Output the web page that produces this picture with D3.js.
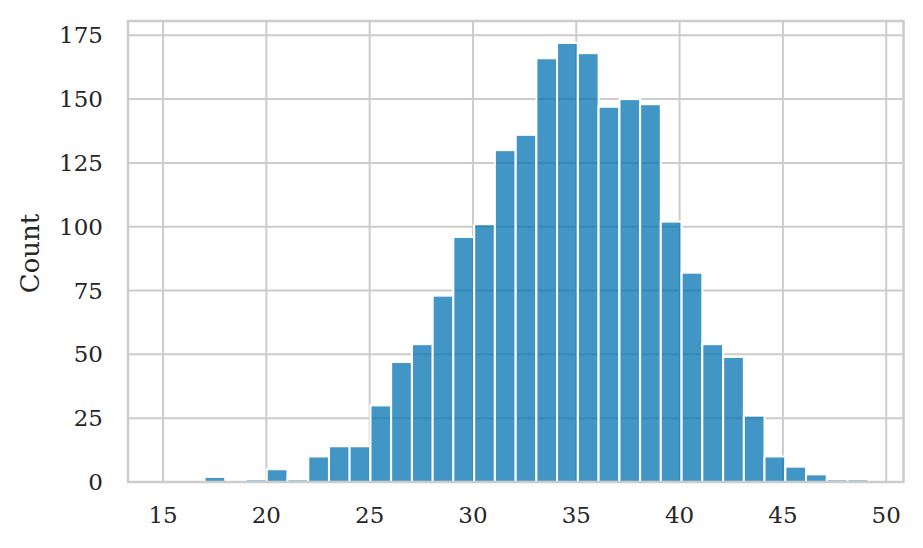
<!DOCTYPE html>
<html>
<head>
<meta charset="utf-8">
<script src="https://cdn.jsdelivr.net/npm/d3@7"></script>
<style>
  body { margin: 0; background: #fff; }
  text { font-family: "DejaVu Serif", serif; fill: #262626; }
</style>
</head>
<body>
<div class="container"></div>
<script>
// left edges of the histogram bins, all bins share the same width
const binEdges = [15.01, 16.01, 17.01, 18.01, 19.01, 20.02, 21.02, 22.03, 23.03, 24.03,
  25.04, 26.04, 27.05, 28.05, 29.05, 30.06, 31.06, 32.07, 33.07, 34.07,
  35.08, 36.08, 37.09, 38.09, 39.09, 40.10, 41.10, 42.11, 43.11, 44.11,
  45.12, 46.12, 47.13, 48.13]
const binWidth = 1.001
const counts = [0, 0, 2, 0, 1, 5, 1, 10, 14, 14,
  30, 47, 54, 73, 96, 101, 130, 136, 166, 172,
  168, 147, 150, 148, 102, 82, 54, 49, 26, 10,
  6, 3, 1, 1]
const xTicks = [15, 20, 25, 30, 35, 40, 45, 50]
const yTicks = [0, 25, 50, 75, 100, 125, 150, 175]
const yLabel = 'Count'

const width = 923
const height = 548
const plotL = 128, plotR = 903.5, plotT = 21, plotB = 482

const lo = binEdges[0]
const hi = binEdges[binEdges.length - 1] + binWidth
const pad = (hi - lo) * 0.05

const x = d3.scaleLinear().domain([lo - pad, hi + pad]).range([plotL, plotR])
const y = d3.scaleLinear().domain([0, d3.max(counts) * 1.05]).range([plotB, plotT])

const svg = d3.select('.container')
  .append('svg')
  .attr('width', width)
  .attr('height', height)

// grid
svg.append('g')
  .selectAll('line')
  .data(xTicks)
  .join('line')
    .attr('x1', d => x(d)).attr('x2', d => x(d))
    .attr('y1', plotT).attr('y2', plotB)
    .attr('stroke', '#cccccc')
    .attr('stroke-width', 2)

svg.append('g')
  .selectAll('line')
  .data(yTicks)
  .join('line')
    .attr('x1', plotL).attr('x2', plotR)
    .attr('y1', d => y(d)).attr('y2', d => y(d))
    .attr('stroke', '#cccccc')
    .attr('stroke-width', 2)

// bars
svg.append('g')
  .selectAll('rect')
  .data(counts)
  .join('rect')
    .attr('x', (d, i) => x(binEdges[i]))
    .attr('width', (d, i) => x(binEdges[i] + binWidth) - x(binEdges[i]))
    .attr('y', d => y(d))
    .attr('height', d => y(0) - y(d))
    .attr('fill', '#0173B2')
    .attr('fill-opacity', 0.75)
    .attr('stroke', '#ffffff')
    .attr('stroke-width', d => d > 0 ? 2 : 0)

// frame
svg.append('rect')
  .attr('x', plotL).attr('y', plotT)
  .attr('width', plotR - plotL).attr('height', plotB - plotT)
  .attr('fill', 'none')
  .attr('stroke', '#cccccc')
  .attr('stroke-width', 2.5)

// tick labels
svg.append('g')
  .selectAll('text')
  .data(xTicks)
  .join('text')
    .attr('x', d => x(d))
    .attr('y', 523)
    .attr('text-anchor', 'middle')
    .style('font-size', '23px')
    .text(d => d)

svg.append('g')
  .selectAll('text')
  .data(yTicks)
  .join('text')
    .attr('x', 103)
    .attr('y', d => y(d))
    .attr('dy', '0.35em')
    .attr('text-anchor', 'end')
    .style('font-size', '23px')
    .text(d => d)

svg.append('text')
  .attr('transform', `translate(39, ${(plotT + plotB) / 2 + 2}) rotate(-90)`)
  .attr('text-anchor', 'middle')
  .style('font-size', '26px')
  .text(yLabel)
</script>
</body>
</html>
